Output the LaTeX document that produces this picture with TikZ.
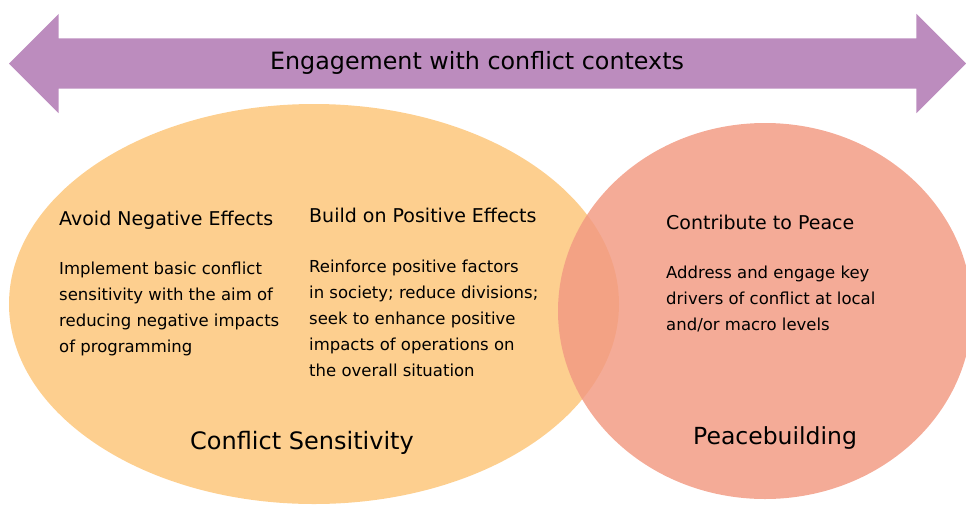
\documentclass[tikz,border=0pt]{standalone}
\usepackage{fontspec}
\setmainfont{DejaVu Sans}
\usetikzlibrary{shapes.geometric, shapes.arrows}

\definecolor{bandpurple}{RGB}{188,140,190}
\definecolor{sensorange}{RGB}{253,207,143}
\definecolor{peacesalmon}{RGB}{242,154,130}

\begin{document}
\begin{tikzpicture}[x=1pt, y=-1pt,
    band/.style={double arrow, fill=bandpurple, draw=none, minimum height=957pt,
                 minimum width=99pt, double arrow head extend=24.5pt, inner sep=0pt,
                 text height=25pt, text depth=25pt},
    blob/.style={ellipse, draw=none, inner sep=0pt},
    heading/.style={anchor=base west, inner sep=0pt, font=\fontsize{19}{23}\selectfont},
    body/.style={anchor=north west, inner sep=0pt, align=left,
                 font=\fontsize{16.5}{26}\selectfont},
    label/.style={anchor=base west, inner sep=0pt}
]

    \useasboundingbox (0,0) rectangle (966,504);
    \clip (0,0) rectangle (966,504);

    % Top band
    \node[band] (engage) at (487.5,63.5) {};
    \node[anchor=base, inner sep=0pt, font=\fontsize{23.8}{28}\selectfont] (engagetxt) at (477,69.3)
        {Engagement with conflict contexts};

    % The two circles
    \node[blob, fill=sensorange, minimum width=610pt, minimum height=400pt] (sens) at (314,304) {};
    \node[blob, fill=peacesalmon, fill opacity=0.83, minimum width=414pt,
          minimum height=376pt] (peace) at (765,311) {};

    % Conflict sensitivity
    \node[heading] (avoid) at (59,225) {Avoid Negative Effects};
    \node[body] (avoidtxt) at (59,261.5) {Implement basic conflict\\
        sensitivity with the aim of\\ reducing negative impacts\\ of programming};

    \node[heading] (build) at (309,222) {Build on Positive Effects};
    \node[body] (buildtxt) at (309,259.5) {Reinforce positive factors\\
        in society; reduce divisions;\\ seek to enhance positive\\
        impacts of operations on\\ the overall situation};

    \node[label, font=\fontsize{24}{28}\selectfont] (senslabel) at (190,449) {Conflict Sensitivity};

    % Peacebuilding
    \node[heading] (contribute) at (666,229) {Contribute to Peace};
    \node[body] (contributetxt) at (666,265.5) {Address and engage key\\
        drivers of conflict at local\\ and/or macro levels};

    \node[label, font=\fontsize{23.5}{27}\selectfont] (peacelabel) at (693,444) {Peacebuilding};

\end{tikzpicture}
\end{document}
